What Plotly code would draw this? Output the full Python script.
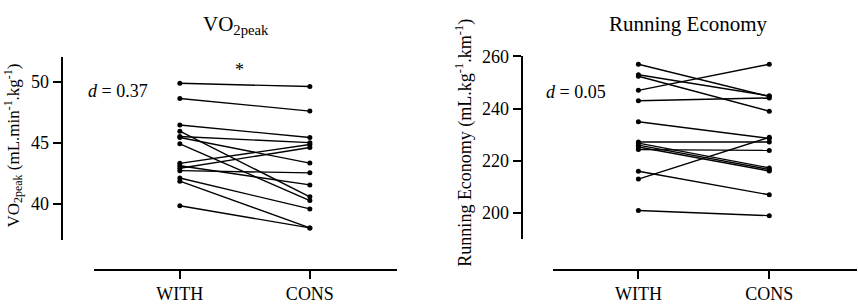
import plotly.graph_objects as go

# ---------------- data ----------------
categories = ["WITH", "CONS"]

vo2_with = [49.87, 48.63, 46.45, 45.50, 45.42, 45.94, 44.90, 43.30, 42.90, 42.70, 43.10, 42.10, 41.84, 39.82]
vo2_cons = [49.61, 47.59, 45.42, 45.00, 43.32, 40.55, 40.25, 44.85, 44.60, 42.52, 41.53, 39.56, 38.00, 38.00]

re_with = [257, 253, 252.4, 247, 243, 235, 227.2, 226.8, 226.0, 225.3, 224.3, 216, 213, 201]
re_cons = [244.6, 244.9, 239, 257, 244.1, 228.6, 227.2, 217.3, 216.7, 216.1, 224.0, 207, 229.0, 199]

vo2_ticks = [40, 45, 50]
re_ticks = [200, 220, 240, 260]

W, H = 858, 304
FONT = "Liberation Serif"


def px_x(p):
    return p / W


def px_y(p):
    return (H - p) / H


fig = go.Figure()

for a, b in zip(vo2_with, vo2_cons):
    fig.add_trace(go.Scatter(
        x=categories, y=[a, b], xaxis="x", yaxis="y",
        mode="lines+markers",
        line=dict(color="black", width=1.4),
        marker=dict(color="black", size=5),
        showlegend=False, hoverinfo="skip", cliponaxis=False))

for a, b in zip(re_with, re_cons):
    fig.add_trace(go.Scatter(
        x=categories, y=[a, b], xaxis="x2", yaxis="y2",
        mode="lines+markers",
        line=dict(color="black", width=1.4),
        marker=dict(color="black", size=5),
        showlegend=False, hoverinfo="skip", cliponaxis=False))

axis_common = dict(
    showline=True, linecolor="black", linewidth=2,
    ticks="outside", ticklen=8, tickwidth=2, tickcolor="black",
    showgrid=False, zeroline=False,
    tickfont=dict(family=FONT, size=18, color="black"),
)

fig.update_layout(
    width=W, height=H,
    margin=dict(l=0, r=0, t=0, b=0),
    paper_bgcolor="white", plot_bgcolor="white",
    font=dict(family=FONT, color="black"),
    xaxis=dict(axis_common, type="category", domain=[px_x(94), px_x(397)],
               range=[-0.66, 1.67], anchor="free", position=px_y(274)),
    yaxis=dict(axis_common, domain=[px_y(242.9), px_y(50.0)], range=[37, 52],
               tickvals=vo2_ticks, anchor="free", position=px_x(61.7)),
    xaxis2=dict(axis_common, type="category", domain=[px_x(553.3), px_x(857)],
                range=[-0.65, 1.67], anchor="free", position=px_y(274)),
    yaxis2=dict(axis_common, domain=[px_y(241.9), px_y(49.0)], range=[190, 260],
                tickvals=re_ticks, anchor="free", position=px_x(521.7)),
)

ann = []
# panel titles
ann.append(dict(text="VO<sub>2peak</sub>", x=px_x(236), y=px_y(16), xref="paper", yref="paper",
                showarrow=False, font=dict(family=FONT, size=21, color="black"),
                xanchor="center", yanchor="middle"))
ann.append(dict(text="Running Economy", x=px_x(688), y=px_y(15), xref="paper", yref="paper",
                showarrow=False, font=dict(family=FONT, size=21, color="black"),
                xanchor="center", yanchor="middle"))
# y axis titles
ann.append(dict(text="VO<sub>2peak</sub> (mL.min<sup>-1</sup>.kg<sup>-1</sup>)",
                x=px_x(13), y=px_y(143), xref="paper", yref="paper", textangle=-90,
                showarrow=False, font=dict(family=FONT, size=17, color="black"),
                xanchor="center", yanchor="middle"))
ann.append(dict(text="Running Economy (mL.kg<sup>-1</sup>.km<sup>-1</sup>)",
                x=px_x(464), y=px_y(140), xref="paper", yref="paper", textangle=-90,
                showarrow=False, font=dict(family=FONT, size=18, color="black"),
                xanchor="center", yanchor="middle"))
# effect sizes
ann.append(dict(text="<i>d</i> = 0.37", x=px_x(117.5), y=px_y(85), xref="paper", yref="paper",
                showarrow=False, font=dict(family=FONT, size=18, color="black"),
                xanchor="center", yanchor="middle"))
ann.append(dict(text="<i>d</i> = 0.05", x=px_x(576), y=px_y(87), xref="paper", yref="paper",
                showarrow=False, font=dict(family=FONT, size=18, color="black"),
                xanchor="center", yanchor="middle"))
# significance star
ann.append(dict(text="*", x=px_x(239), y=px_y(63), xref="paper", yref="paper",
                showarrow=False, font=dict(family=FONT, size=18, color="black"),
                xanchor="center", yanchor="middle"))

fig.update_layout(annotations=ann)

fig.write_html(
    "out.html",
    config={"displayModeBar": False},
    post_script=(
        "document.body.style.margin='0';"
        "document.body.style.overflow='hidden';"
        "document.documentElement.style.overflow='hidden';"
    ),
)
